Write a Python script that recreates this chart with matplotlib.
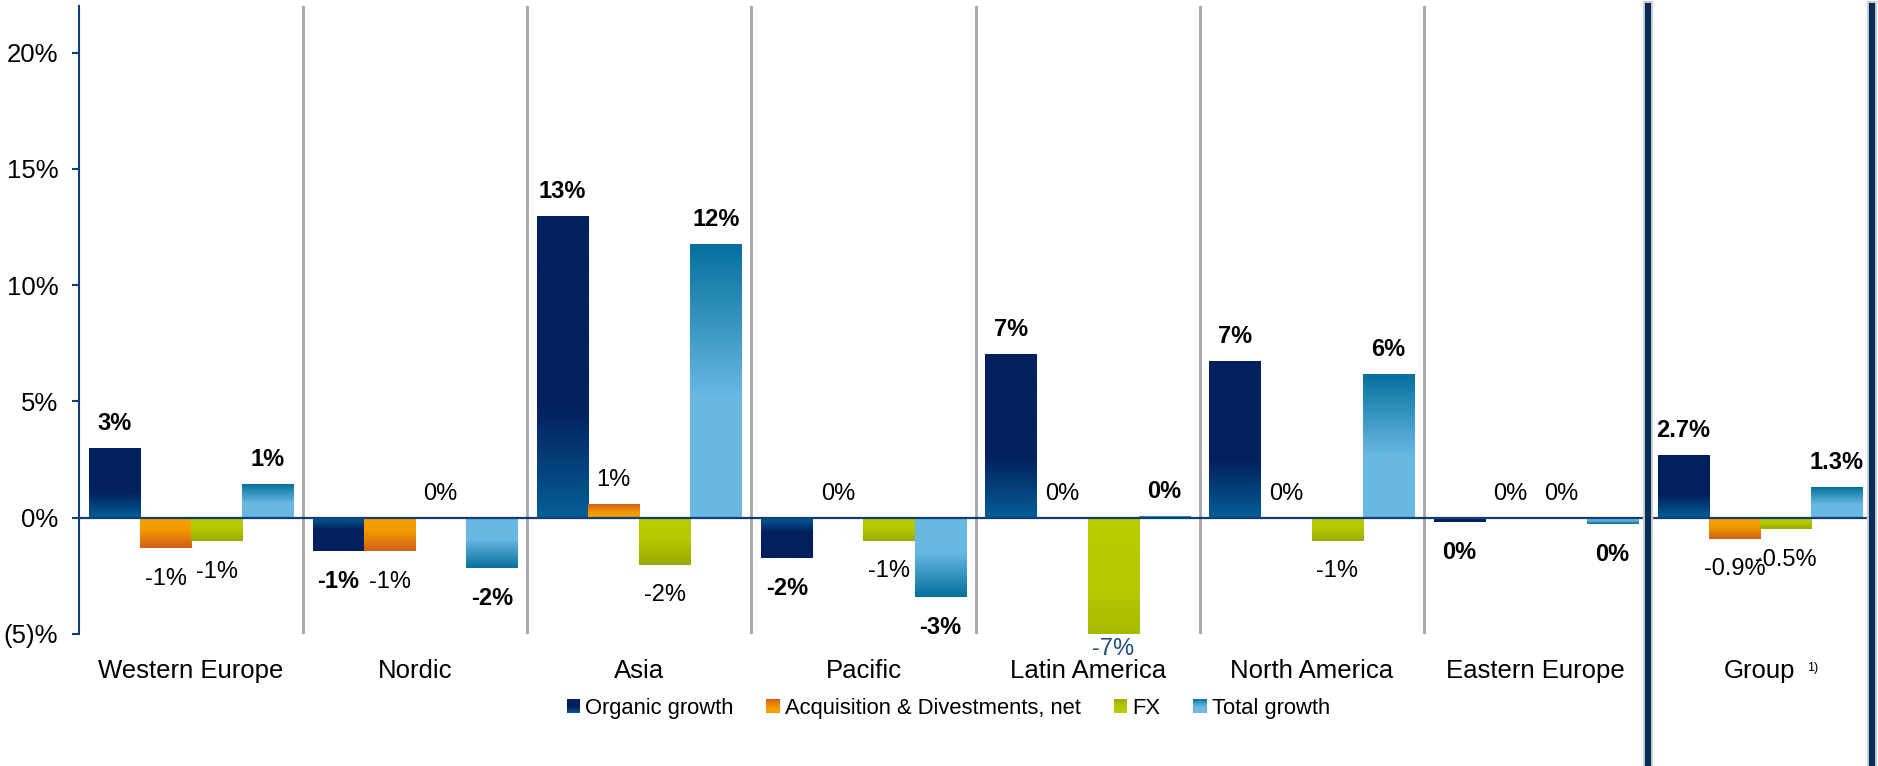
import matplotlib.pyplot as plt
import numpy as np
from matplotlib.colors import LinearSegmentedColormap
from matplotlib.legend_handler import HandlerBase
from matplotlib.patches import Rectangle

plt.rcParams['font.family'] = ['Liberation Sans', 'DejaVu Sans']

# --- DATA ---
regions = ["Western Europe", "Nordic", "Asia", "Pacific", "Latin America",
           "North America", "Eastern Europe", "Group"]
series_names = ["Organic growth", "Acquisition & Divestments, net", "FX", "Total growth"]

organic = [3.0, -1.43, 12.97, -1.73, 7.05, 6.74, -0.18, 2.7]
acquisition = [-1.32, -1.45, 0.58, 0.0, 0.0, 0.0, 0.0, -0.9]
fx = [-1.02, 0.0, -2.03, -1.0, -7.0, -1.0, 0.0, -0.5]
total = [1.42, -2.16, 11.74, -3.40, 0.05, 6.17, -0.27, 1.3]

yticks = [-5, 0, 5, 10, 15, 20]
ytick_labels = ["(5)%", "0%", "5%", "10%", "15%", "20%"]

# gradient stops from the bar base (0) to the bar tip (1)
gradients = [
    [(0.0, '#045f96'), (0.37, '#02205e'), (1.0, '#02205e')],
    [(0.0, '#f5a200'), (0.4, '#f29a00'), (1.0, '#d2601a')],
    [(0.0, '#bacd00'), (0.45, '#b5c800'), (1.0, '#9aab00')],
    [(0.0, '#68b8e2'), (0.44, '#68b8e2'), (1.0, '#06709e')],
]
cmaps = [LinearSegmentedColormap.from_list(f"g{i}", g) for i, g in enumerate(gradients)]
bold_series = [True, False, False, True]

navy = '#123f73'
ymin, ymax = -5, 22


def fmt(v, group):
    if group:
        return f"{v:.1f}%"
    return f"{int(round(v))}%"


class GradientHandler(HandlerBase):
    def __init__(self, cmap):
        super().__init__()
        self.cmap = cmap

    def create_artists(self, legend, orig_handle, xdescent, ydescent,
                       width, height, fontsize, trans):
        n = 16
        pieces = []
        for i in range(n):
            t = (i + 0.5) / n
            r = Rectangle((-xdescent, -ydescent + i * height / n), width, height / n + 0.05,
                          facecolor=self.cmap(t), edgecolor='none', transform=trans)
            pieces.append(r)
        return pieces


fig = plt.figure(figsize=(18.78, 7.66), dpi=100)
ax = fig.add_axes([79 / 1878, 1 - 634 / 766, (1872 - 79) / 1878, (634 - 6) / 766])

x = np.arange(len(regions))
width = 0.228
offsets = (np.arange(4) - 1.5) * width
data = [organic, acquisition, fx, total]

ramp = np.linspace(0, 1, 256).reshape(-1, 1)
for k, vals in enumerate(data):
    bars = ax.bar(x + offsets[k], vals, width, color='none', edgecolor='none')
    for i, rect in enumerate(bars):
        v = vals[i]
        x0 = rect.get_x()
        if v != 0:
            ax.imshow(ramp, extent=[x0, x0 + width, 0, v], origin='lower',
                      cmap=cmaps[k], aspect='auto', interpolation='bilinear', zorder=2)
        cx = x0 + width / 2
        weight = 'bold' if bold_series[k] else 'normal'
        txt = fmt(v, regions[i] == "Group")
        if v >= 0:
            ax.annotate(txt, (cx, v), xytext=(0, 9.5), textcoords='offset points',
                        ha='center', va='bottom', fontsize=17, fontweight=weight)
        elif v < ymin:
            # bar runs past the axis floor: label sits just under it
            ax.annotate(txt, (cx, ymin), xytext=(0, -3), textcoords='offset points',
                        ha='center', va='top', fontsize=17, fontweight=weight,
                        color='#1f4e79', annotation_clip=False)
        else:
            ax.annotate(txt, (cx, v), xytext=(0, -14), textcoords='offset points',
                        ha='center', va='top', fontsize=17, fontweight=weight)

# separators between regions
for xs in np.arange(0.5, 6.0, 1.0):
    ax.axvline(xs, color='#a6a6a6', lw=2, zorder=1)

# heavy frame around the group column
for xs in [6.5, 7.5]:
    ax.axvline(xs, ymin=-0.25, ymax=1.0, color='#d4d4d4', lw=7.5, clip_on=False, zorder=4)
    ax.axvline(xs, ymin=-0.25, ymax=1.0, color='#0a2d57', lw=4.5, clip_on=False, zorder=5)

ax.axhline(0, color=navy, lw=1.6, zorder=3)

ax.set_xlim(-0.5, len(regions) - 0.5)
ax.set_ylim(ymin, ymax)
ax.set_yticks(yticks)
ax.set_yticklabels(ytick_labels, fontsize=18.5)
ax.set_xticks(x)
ax.set_xticklabels(regions, fontsize=18.5)
ax.tick_params(axis='y', direction='out', length=5, width=1.5, color=navy, pad=10)
ax.tick_params(axis='x', length=0, pad=18)

for s in ['top', 'right', 'bottom']:
    ax.spines[s].set_visible(False)
ax.spines['left'].set_color(navy)
ax.spines['left'].set_linewidth(1.5)

fig.text(1813 / 1878, 1 - 668 / 766, "1)", fontsize=9, ha='center', va='center')

handles = [Rectangle((0, 0), 1, 1) for _ in series_names]
hmap = {h: GradientHandler(c) for h, c in zip(handles, cmaps)}
ax.legend(handles, series_names, handler_map=hmap, loc='center',
          bbox_to_anchor=(0.505, 0.0757), bbox_transform=fig.transFigure,
          ncol=4, frameon=False, fontsize=15.8, handlelength=0.6, handleheight=0.6,
          handletextpad=0.25, columnspacing=1.5)

fig.savefig("out.png", dpi=100)
